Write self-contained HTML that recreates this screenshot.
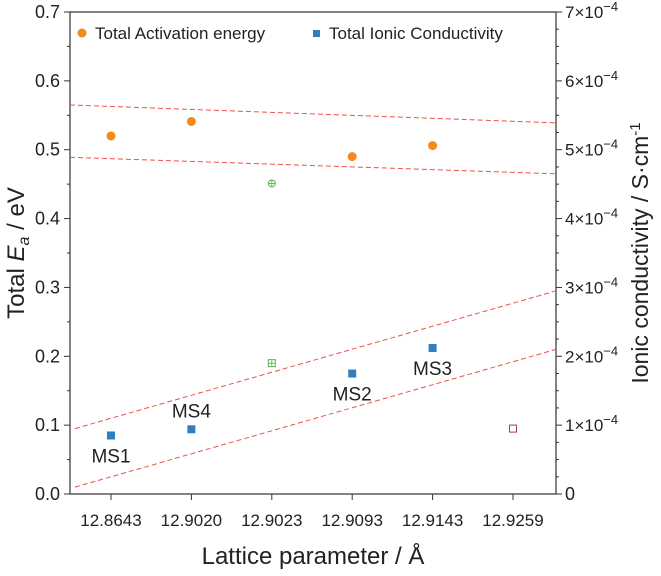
<!DOCTYPE html>
<html><head><meta charset="utf-8"><style>
body{margin:0;background:#fff;}
svg{display:block;font-family:"Liberation Sans",sans-serif;}
</style></head><body>
<svg id="chart" width="661" height="576" viewBox="0 0 661 576">
<g id="g"></g>
</svg>
<script>
const categories=["12.8643","12.9020","12.9023","12.9093","12.9143","12.9259"];
const eaIdx=[0,1,3,4];
const eaValues=[0.52,0.541,0.49,0.506];
const condIdx=[0,1,3,4];
const condValues=[0.85e-4,0.94e-4,1.75e-4,2.12e-4];
const condLabels=["MS1","MS4","MS2","MS3"];
const greenEa=[2,0.451];
const greenCond=[2,1.9e-4];
const hollowCond=[5,0.95e-4];
const leftTicks=[0,0.1,0.2,0.3,0.4,0.5,0.6,0.7];
const rightTicks=[0,1,2,3,4,5,6,7];
const fitLinesEa=[[0.565,0.539],[0.489,0.465]];
const fitLinesCond=[[0.95e-4,2.95e-4],[0.1e-4,2.1e-4]];

const L=70,R=556,T=12,B=494;
const xc=i=>111+i*80.4;
const yL=v=>B-(v/0.7)*(B-T);
const yR=v=>B-(v/7e-4)*(B-T);
const NS="http://www.w3.org/2000/svg";
const g=document.getElementById('g');
function mk(t,a,txt){const e=document.createElementNS(NS,t);for(const k in a)e.setAttribute(k,a[k]);if(txt!==undefined)e.textContent=txt;g.appendChild(e);return e;}

let e=mk('rect',{x:L,y:T,width:R-L,height:B-T,fill:'none',stroke:'#333','stroke-width':1.2});


leftTicks.forEach((v,i)=>{
 const y=yL(v);
 let t=mk('line',{x1:L-6,x2:L,y1:y,y2:y,stroke:'#333'});
 
 let l=mk('text',{x:L-10,y:y+6,'text-anchor':'end','font-size':18,fill:'#222'},v.toFixed(1));
 
 if(i<leftTicks.length-1){let m=mk('line',{x1:L-3,x2:L,y1:yL(v+0.05),y2:yL(v+0.05),stroke:'#333'});
 }
});
rightTicks.forEach((v,i)=>{
 const y=yR(v*1e-4);
 let t=mk('line',{x1:R,x2:R+6,y1:y,y2:y,stroke:'#333'});
 
 let l;
 if(v===0){l=mk('text',{x:R+9,y:y+6,'font-size':18,fill:'#222'},'0');}
 else{l=mk('text',{x:R+9,y:y+6,'font-size':17,fill:'#222'});
  l.innerHTML=v+'×10<tspan dy="-7" font-size="13">−4</tspan>';}
 
 if(i<rightTicks.length-1){for(let k=1;k<4;k++){const yy=yR((v+k*0.25)*1e-4);
  let m=mk('line',{x1:R,x2:R+3,y1:yy,y2:yy,stroke:'#333'});
  }}
});
categories.forEach((c,i)=>{
 const x=xc(i);
 let t=mk('line',{x1:x,x2:x,y1:B,y2:B+6,stroke:'#333'});
 
 let l=mk('text',{x:x,y:B+32,'text-anchor':'middle','font-size':17,fill:'#222'},c);
 
});

e=mk('text',{x:313,y:564,'text-anchor':'middle','font-size':24,fill:'#222'},'Lattice parameter / Å');

e=mk('text',{x:0,y:0,'text-anchor':'middle','font-size':24,fill:'#222',transform:'translate(24,253) rotate(-90)'});
e.innerHTML='Total <tspan font-style="italic">E</tspan><tspan font-style="italic" font-size="16" dy="5">a</tspan><tspan dy="-5"> / eV</tspan>';

e=mk('text',{x:0,y:0,'text-anchor':'middle','font-size':23,fill:'#222',transform:'translate(648,253) rotate(-90)'});
e.innerHTML='Ionic conductivity / S·cm<tspan dy="-8" font-size="15">-1</tspan>';


fitLinesEa.forEach(f=>{let l=mk('line',{x1:L,x2:R,y1:yL(f[0]),y2:yL(f[1]),stroke:'#e8544a','stroke-width':1,'stroke-dasharray':'5,3'});
 });
fitLinesCond.forEach(f=>{let l=mk('line',{x1:L+5,x2:R,y1:yR(f[0]),y2:yR(f[1]),stroke:'#e8544a','stroke-width':1,'stroke-dasharray':'5,3'});
 });

eaIdx.forEach((ci,k)=>{let c=mk('circle',{cx:xc(ci),cy:yL(eaValues[k]),r:4.5,fill:'#f28a1c'});
 });
condIdx.forEach((ci,k)=>{const x=xc(ci),y=yR(condValues[k]);
 let s=mk('rect',{x:x-4,y:y-4,width:8,height:8,fill:'#2e7fc1'});
 
 const above=(k===1);
 let l=mk('text',{x:x,y:above?y-12:y+27,'text-anchor':'middle','font-size':19,fill:'#222'},condLabels[k]);
 
});
{const x=xc(greenEa[0]),y=yL(greenEa[1]);
 let c=mk('circle',{cx:x,cy:y,r:3.5,fill:'none',stroke:'#4cb34c','stroke-width':1});
 
 mk('path',{d:`M${x-3} ${y}H${x+3}M${x} ${y-3}V${y+3}`,stroke:'#4cb34c','stroke-width':0.8});}
{const x=xc(greenCond[0]),y=yR(greenCond[1]);
 let c=mk('rect',{x:x-3.5,y:y-3.5,width:7,height:7,fill:'none',stroke:'#4cb34c','stroke-width':1});
 
 mk('path',{d:`M${x-3} ${y}H${x+3}M${x} ${y-3}V${y+3}`,stroke:'#4cb34c','stroke-width':0.8});}
{const x=xc(hollowCond[0]),y=yR(hollowCond[1]);
 let c=mk('rect',{x:x-3.5,y:y-3.5,width:7,height:7,fill:'none',stroke:'#a04050','stroke-width':1});
 }

e=mk('circle',{cx:82,cy:33,r:4.5,fill:'#f28a1c'});

e=mk('text',{x:95,y:39,'font-size':17,fill:'#222'},'Total Activation energy');

e=mk('rect',{x:313,y:30,width:7,height:7,fill:'#2e7fc1'});

e=mk('text',{x:329,y:39,'font-size':17,fill:'#222'},'Total Ionic Conductivity');

</script>
</body></html>
